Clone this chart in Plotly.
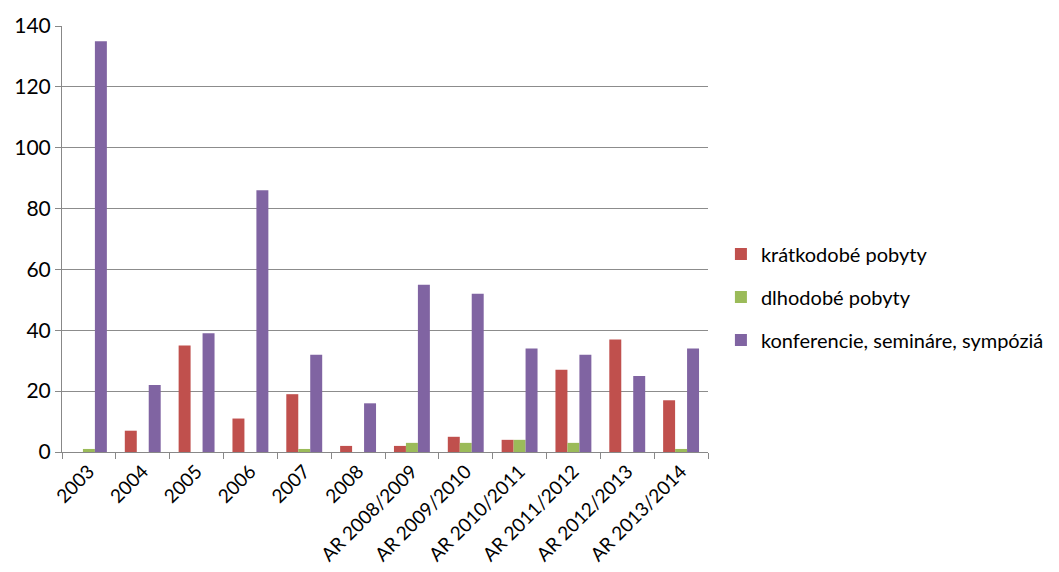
import plotly.graph_objects as go

categories = ["2003", "2004", "2005", "2006", "2007", "2008", "AR 2008/2009", "AR 2009/2010",
              "AR 2010/2011", "AR 2011/2012", "AR 2012/2013", "AR 2013/2014"]
kratkodobe = [0, 7, 35, 11, 19, 2, 2, 5, 4, 27, 37, 17]
dlhodobe = [1, 0, 0, 0, 1, 0, 3, 3, 4, 3, 0, 1]
konferencie = [135, 22, 39, 86, 32, 16, 55, 52, 34, 32, 25, 34]

series = [
    ("krátkodobé pobyty", kratkodobe, "#C0504D"),
    ("dlhodobé pobyty", dlhodobe, "#9BBB59"),
    ("konferencie, semináre, sympóziá", konferencie, "#8064A2"),
]

fig = go.Figure()
for i, (name, vals, col) in enumerate(series):
    fig.add_trace(go.Bar(x=categories, y=vals, name=name, legendgroup=f"g{i}",
                         marker=dict(color=col, line=dict(width=0))))

font = "Lato, Open Sans, sans-serif"
fig.update_layout(
    width=1059, height=572,
    margin=dict(l=62, r=351, t=26, b=120, autoexpand=False),
    paper_bgcolor="white", plot_bgcolor="white",
    barmode="group", bargap=0.333, bargroupgap=0,
    font=dict(family=font, size=16, color="#000000"),
    legend=dict(x=1.02, y=0.364, yanchor="middle", xanchor="left",
                font=dict(size=20, family=font), tracegroupgap=14, itemwidth=30),
    xaxis=dict(tickangle=-45, showline=True, linecolor="#888888", linewidth=1,
               ticks="outside", tickson="boundaries", ticklen=6, tickcolor="#888888",
               tickfont=dict(size=19, family=font), automargin=False),
    yaxis=dict(range=[0, 140], dtick=20, showgrid=True, gridcolor="#8c8c8c", gridwidth=1,
               showline=True, linecolor="#888888", ticks="outside", ticklen=6,
               tickcolor="#888888", tickfont=dict(size=21, family=font), zeroline=False,
               automargin=False),
)
fig.write_html("out.html")
